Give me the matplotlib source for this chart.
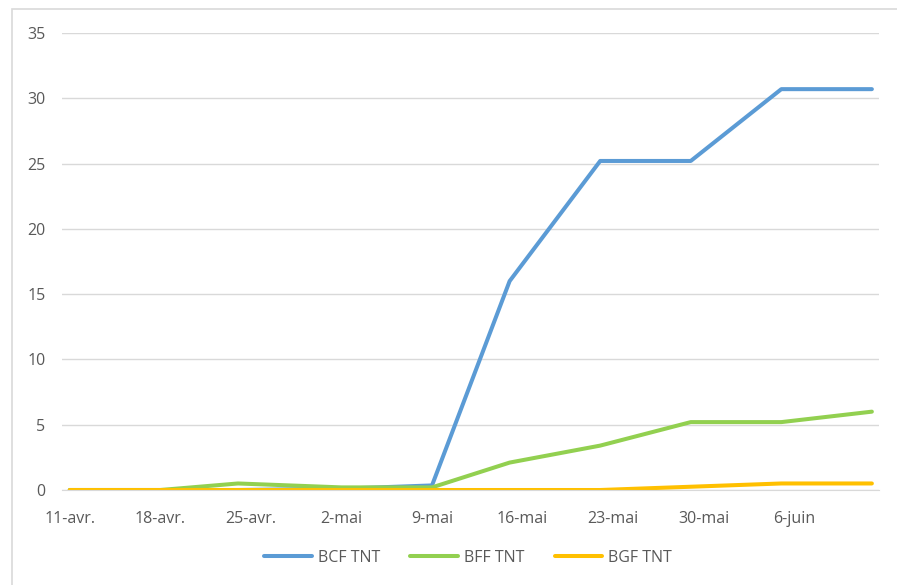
import matplotlib.pyplot as plt
import matplotlib.dates as mdates
from matplotlib.patches import Rectangle
import numpy as np

# Weekly measurements (dates of each reading)
dates = np.array(['2016-04-11', '2016-04-18', '2016-04-24', '2016-05-02', '2016-05-09',
                  '2016-05-15', '2016-05-22', '2016-05-29', '2016-06-05', '2016-06-12'],
                 dtype='datetime64[D]')
bcf_tnt = [0, 0, 0, 0.1, 0.35, 16.0, 25.2, 25.2, 30.7, 30.7]
bff_tnt = [0, 0, 0.5, 0.2, 0.2, 2.1, 3.4, 5.2, 5.2, 6.0]
bgf_tnt = [0, 0, 0, 0, 0, 0, 0, 0.25, 0.5, 0.5]

tick_dates = np.array(['2016-04-11', '2016-04-18', '2016-04-25', '2016-05-02', '2016-05-09',
                       '2016-05-16', '2016-05-23', '2016-05-30', '2016-06-06'],
                      dtype='datetime64[D]')
tick_labels = ['11-avr.', '18-avr.', '25-avr.', '2-mai', '9-mai',
               '16-mai', '23-mai', '30-mai', '6-juin']

plt.rcParams['font.family'] = ['Open Sans', 'DejaVu Sans']
txt = '#595959'
grid = '#d9d9d9'

fig = plt.figure(figsize=(8.97, 5.85), dpi=100)
# chart frame, running past the right and bottom edges
fig.patches.append(Rectangle((12 / 897, -20 / 585), 900 / 897, 596 / 585,
                             transform=fig.transFigure, fill=False,
                             edgecolor=grid, linewidth=1.2))
ax = fig.add_axes([62 / 897, 1 - 490 / 585, 817 / 897, 457 / 585])

x = mdates.date2num(dates)
ax.plot(x, bcf_tnt, color='#5b9bd5', lw=2.9, solid_capstyle='round', label='BCF TNT')
ax.plot(x, bff_tnt, color='#92d050', lw=2.9, solid_capstyle='round', label='BFF TNT')
ax.plot(x, bgf_tnt, color='#ffc000', lw=2.9, solid_capstyle='round', label='BGF TNT')

ax.set_ylim(0, 35)
ax.set_yticks(range(0, 36, 5))
ax.set_xlim(mdates.date2num(np.datetime64('2016-04-10')) + 0.4,
            mdates.date2num(np.datetime64('2016-06-12')) + 0.55)
ax.set_xticks(mdates.date2num(tick_dates))
ax.set_xticklabels(tick_labels)

ax.grid(axis='y', color=grid, lw=1)
ax.set_axisbelow(True)
for s in ['top', 'right', 'left']:
    ax.spines[s].set_visible(False)
ax.spines['bottom'].set_color(grid)
ax.tick_params(length=0, labelcolor=txt, labelsize=11.5)
ax.tick_params(axis='y', pad=12)
ax.tick_params(axis='x', pad=15)

fig.legend(loc='center', bbox_to_anchor=(468 / 897, 1 - 558 / 585), ncol=3,
           frameon=False, fontsize=11.5, labelcolor=txt, handlelength=3.0,
           columnspacing=1.9, handletextpad=0.35)

fig.savefig('out.png', dpi=100)
